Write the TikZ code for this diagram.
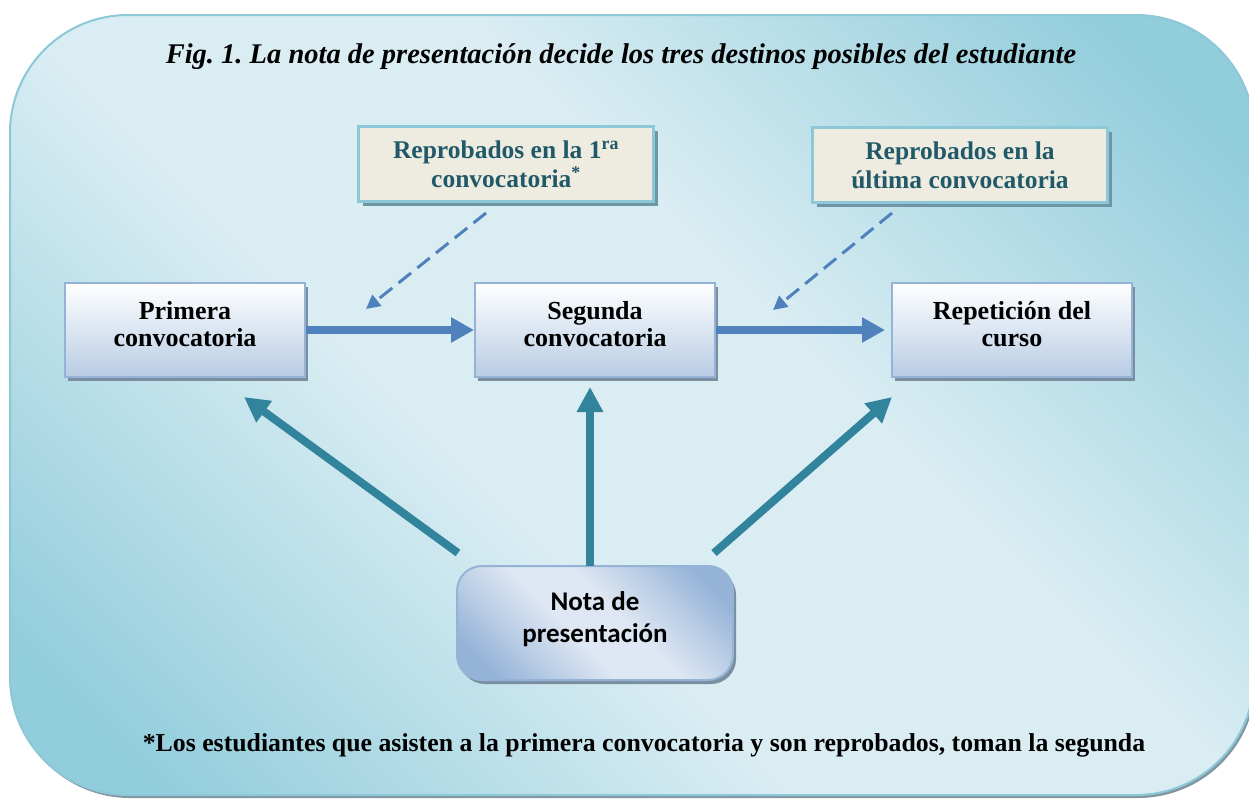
\documentclass[tikz,border=0pt]{standalone}
\usepackage{fontspec}
\setmainfont{Liberation Serif}
\newfontfamily\notafont{Carlito}
\usetikzlibrary{arrows.meta,shadows,calc}
\frenchspacing
\definecolor{bgdark}{RGB}{146,205,220}
\definecolor{bglight}{RGB}{218,237,243}
\definecolor{bgshadow}{RGB}{130,150,160}
\definecolor{boxborder}{RGB}{149,179,215}
\definecolor{boxblue}{RGB}{184,204,228}
\definecolor{boxshadow}{RGB}{122,142,160}
\definecolor{repfill}{RGB}{238,236,225}
\definecolor{repborder}{RGB}{140,200,216}
\definecolor{repshadow}{RGB}{110,150,165}
\definecolor{reptext}{RGB}{33,89,104}
\definecolor{arrowblue}{RGB}{79,129,189}
\definecolor{arrowteal}{RGB}{49,132,155}
\definecolor{notadark}{RGB}{149,179,215}
\definecolor{notalight}{RGB}{222,231,243}
\newcommand\lowstrut{\rule[-12pt]{0pt}{12pt}}
\pgfdeclareverticalshading{bgshade}{100bp}{color(0bp)=(bgdark); color(20bp)=(bgdark); color(42bp)=(bglight); color(58bp)=(bglight); color(80bp)=(bgdark); color(100bp)=(bgdark)}
\pgfdeclareverticalshading{notashade}{100bp}{color(0bp)=(notadark); color(22bp)=(notadark); color(44bp)=(notalight); color(56bp)=(notalight); color(78bp)=(notadark); color(100bp)=(notadark)}
\begin{document}
\begin{tikzpicture}[x=1pt,y=-1pt,
  mainbox/.style={draw=boxborder, line width=2pt, top color=white, bottom color=boxblue,
    minimum width=240pt, minimum height=94pt, inner sep=0pt, align=center,
    font=\fontsize{26}{27}\selectfont\bfseries,
    drop shadow={shadow xshift=3pt, shadow yshift=-4pt, fill=boxshadow, opacity=1}},
  repbox/.style={draw=repborder, line width=3pt, fill=repfill,
    minimum width=295pt, minimum height=75pt, inner sep=0pt, align=center,
    text=reptext, font=\fontsize{25.5}{29}\selectfont\bfseries,
    drop shadow={shadow xshift=4pt, shadow yshift=-4pt, fill=repshadow, opacity=1}},
  notabox/.style={draw=boxborder, line width=2pt, shading=notashade, shading angle=-45,
    rounded corners=25pt, minimum width=276pt, minimum height=114pt, inner sep=0pt,
    align=center, font=\notafont\fontsize{27}{32}\selectfont\bfseries,
    drop shadow={shadow xshift=3pt, shadow yshift=-4pt, fill=boxshadow, opacity=1}},
  bluearrow/.style={draw=arrowblue, line width=8pt,
    -{Triangle[length=23pt,width=24pt]}},
  dasharrow/.style={draw=arrowblue, line width=3pt, dash pattern=on 16pt off 8pt,
    -{Triangle[length=14pt,width=14pt]}},
  tealarrow/.style={draw=arrowteal, line width=8pt,
    -{Triangle[length=25pt,width=25pt]}}
]
\useasboundingbox (0,0) rectangle (1249,798);
\clip (0,0) rectangle (1249,798);
% background panel
\path[draw=repborder, line width=2pt, shading=bgshade, shading angle=-45,
  rounded corners=118pt,
  drop shadow={shadow xshift=2pt, shadow yshift=-3pt, fill=bgshadow, opacity=1}]
  (10,15) rectangle (1254,795);

% title
\node[font=\fontsize{28.5}{32}\selectfont\bfseries\itshape] (title) at (621,57)
  {Fig. 1. La nota de presentación decide los tres destinos posibles del estudiante};

% boxes
\node[repbox] (rep1) at (506,164) {Reprobados en la 1\textsuperscript{ra}\\convocatoria\textsuperscript{*}};
\node[repbox] (rep2) at (960,165) {Reprobados en la\\última convocatoria};
\node[mainbox] (prim) at (185,330) {Primera\\convocatoria\lowstrut};
\node[mainbox] (seg) at (595,330) {Segunda\\convocatoria\lowstrut};
\node[mainbox] (repc) at (1012,330) {Repetición del\\curso\lowstrut};
\node[notabox] (nota) at (595,623) {Nota de\\presentación\lowstrut};

% footnote
\node[font=\fontsize{25.8}{28}\selectfont\bfseries] (foot) at (644,745)
  {*Los estudiantes que asisten a la primera convocatoria y son reprobados, toman la segunda};

% coordinates for free ends
\coordinate (d1s) at (486,213);
\coordinate (d1e) at (366,309);
\coordinate (d2s) at (892,213);
\coordinate (d2e) at (773,310);
\coordinate (t1s) at (458,553);
\coordinate (t1e) at (244,397);
\coordinate (t2s) at (590,566);
\coordinate (t2e) at (590,387);
\coordinate (t3s) at (714,553);
\coordinate (t3e) at (892,397);

% connectors
\draw[bluearrow] (prim) -- (seg);
\draw[bluearrow] (seg) -- ($(repc.west)+(-6,0)$);
\draw[dasharrow] (d1s) -- (d1e);
\draw[dasharrow] (d2s) -- (d2e);
\draw[tealarrow] (t1s) -- (t1e);
\draw[tealarrow] (t2s) -- (t2e);
\draw[tealarrow] (t3s) -- (t3e);
\end{tikzpicture}
\end{document}
